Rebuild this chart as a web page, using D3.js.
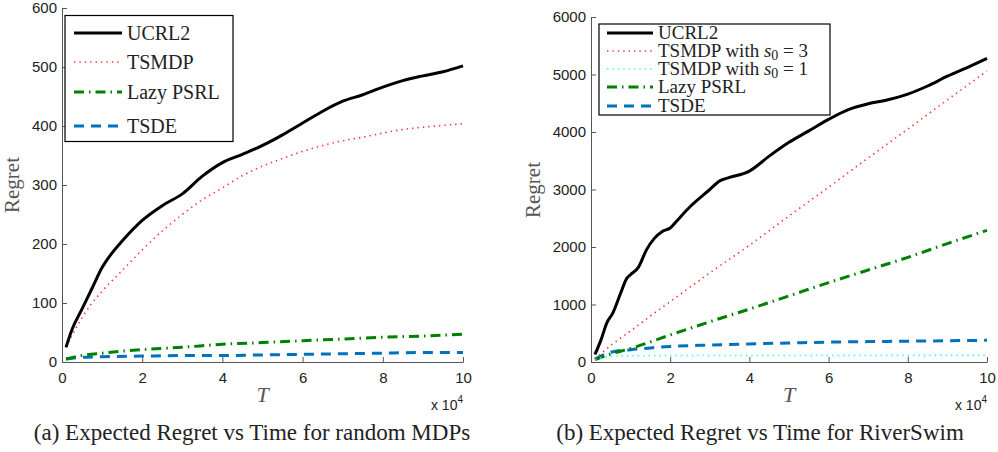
<!DOCTYPE html>
<html>
<head>
<meta charset="utf-8">
<script src="https://cdn.jsdelivr.net/npm/d3@7"></script>
<style>
  body { margin: 0; background: #fff; }
  svg { display: block; }
  .tick text { font-family: 'Liberation Sans', Arial, sans-serif; font-size: 15px; fill: #222; }
  .domain, .tick line { stroke: #555; }
  .serif { font-family: 'Liberation Serif', 'Times New Roman', serif; fill: #222; }
</style>
</head>
<body>
<svg id="container" width="998" height="452"></svg>
<script>
// ---- data: T in units of 10^4, regret values ----
const tA_ucrl = [0.1, 0.25, 0.5, 0.75, 1, 1.25, 1.5, 2, 2.5, 3, 3.5, 4, 4.5, 5, 5.5, 6, 6.5, 7, 7.5, 8, 8.5, 9, 9.5, 10]
const regA_ucrl = [25, 55, 90, 125, 160, 185, 205, 240, 265, 285, 315, 338, 352, 367, 385, 405, 425, 442, 453, 466, 477, 485, 492, 502]

const tA_tsmdp = [0.1, 0.25, 0.5, 0.75, 1, 1.5, 2, 2.5, 3, 3.5, 4, 4.5, 5, 5.5, 6, 6.5, 7, 7.5, 8, 8.5, 9, 9.5, 10]
const regA_tsmdp = [25, 45, 75, 100, 120, 155, 190, 222, 250, 275, 295, 316, 332, 345, 357, 367, 375, 381, 388, 394, 398, 401, 404]

const tA_coarse = [0.1, 0.5, 1, 2, 3, 4, 5, 6, 7, 8, 9, 10]
const regA_lazy = [5, 11, 15, 21, 25, 30, 33, 36, 39, 42, 44, 47]
const regA_tsde = [5, 8, 9, 10, 11, 11, 12, 13, 14, 15, 16, 16]

const tB_ucrl = [0.1, 0.25, 0.4, 0.55, 0.75, 0.9, 1, 1.2, 1.4, 1.6, 1.8, 2, 2.2, 2.5, 3, 3.25, 3.5, 4, 4.5, 5, 5.5, 6, 6.5, 7, 7.5, 8, 8.5, 9, 9.5, 10]
const regB_ucrl = [130, 380, 680, 850, 1200, 1450, 1520, 1650, 1950, 2150, 2270, 2330, 2480, 2700, 3000, 3150, 3210, 3320, 3580, 3820, 4020, 4220, 4390, 4490, 4560, 4660, 4800, 4970, 5120, 5280]

const tB_coarse = [0.1, 0.5, 1, 1.5, 2, 3, 4, 5, 6, 7, 8, 9, 10]
const regB_tsmdp3 = [50, 290, 540, 800, 1050, 1550, 2030, 2540, 3040, 3550, 4050, 4560, 5060]
const regB_tsmdp1 = [40, 100, 108, 110, 112, 112, 113, 113, 114, 114, 115, 115, 115]
const regB_lazy = [40, 140, 235, 350, 470, 700, 920, 1150, 1380, 1600, 1820, 2060, 2290]
const regB_tsde = [50, 170, 215, 245, 270, 295, 315, 330, 345, 355, 362, 370, 378]

const xTicks = [0, 2, 4, 6, 8, 10]
const yTicksA = [0, 100, 200, 300, 400, 500, 600]
const yTicksB = [0, 1000, 2000, 3000, 4000, 5000, 6000]

const namesA = ['UCRL2', 'TSMDP', 'Lazy PSRL', 'TSDE']
const namesB = ['UCRL2', 'TSMDP with s0 = 3', 'TSMDP with s0 = 1', 'Lazy PSRL', 'TSDE']

// line styles
const styles = {
  ucrl: { stroke: '#000', width: 3, dash: null },
  tsmdp: { stroke: '#ff3333', width: 1.6, dash: '1.4,4' },
  tsmdp1: { stroke: '#33ffff', width: 1.6, dash: '1.4,4' },
  lazy: { stroke: '#008000', width: 3, dash: '10,5,1.5,5' },
  tsde: { stroke: '#0072bd', width: 3, dash: '10,7' }
}

const svg = d3.select('#container')

function drawPanel(cfg) {
  const x = d3.scaleLinear().domain([0, 10]).range([cfg.left, cfg.right])
  const y = d3.scaleLinear().domain(cfg.yDomain).range([cfg.bottom, cfg.top])
  const g = svg.append('g')

  g.append('g')
    .attr('transform', `translate(0,${cfg.bottom})`)
    .call(d3.axisBottom(x).tickValues(xTicks).tickSizeInner(-5).tickSizeOuter(0).tickPadding(10))
  g.append('g')
    .attr('transform', `translate(${cfg.left},0)`)
    .call(d3.axisLeft(y).tickValues(cfg.yTicks).tickFormat(d3.format('d')).tickSizeInner(-5).tickSizeOuter(0).tickPadding(5))

  const line = d3.line()
    .x((d) => x(d[0]))
    .y((d) => y(d[1]))
    .curve(d3.curveMonotoneX)

  // draw in reverse so UCRL2 sits on top
  cfg.series.slice().reverse().forEach((s) => {
    const st = styles[s.style]
    g.append('path')
      .datum(d3.zip(s.t, s.v))
      .attr('fill', 'none')
      .attr('stroke', st.stroke)
      .attr('stroke-width', st.width)
      .attr('stroke-dasharray', st.dash)
      .attr('d', line)
  })

  g.append('text')
    .attr('class', 'serif')
    .attr('transform', `translate(${cfg.ylabX},${cfg.ylabY}) rotate(-90)`)
    .attr('text-anchor', 'middle')
    .attr('dominant-baseline', 'middle')
    .style('font-size', '21px')
    .style('fill', '#555')
    .text('Regret')

  g.append('text')
    .attr('class', 'serif')
    .attr('x', (cfg.left + cfg.right) / 2)
    .attr('y', cfg.bottom + 40)
    .attr('text-anchor', 'middle')
    .style('font-size', '22px')
    .style('font-style', 'italic')
    .style('fill', '#555')
    .text('T')

  const exp = g.append('text')
    .attr('x', cfg.right)
    .attr('y', cfg.bottom + 48)
    .attr('text-anchor', 'end')
    .style('font-family', "'Liberation Sans', Arial, sans-serif")
    .style('font-size', '14px')
    .style('fill', '#222')
  exp.append('tspan').text('x 10')
  exp.append('tspan').attr('dy', -7).style('font-size', '10px').text('4')

  // legend
  const lg = g.append('g')
  lg.append('rect')
    .attr('x', cfg.legend.x).attr('y', cfg.legend.y)
    .attr('width', cfg.legend.w).attr('height', cfg.legend.h)
    .attr('fill', '#fff').attr('stroke', '#000').attr('stroke-width', 1.2)
  cfg.series.forEach((s, i) => {
    const st = styles[s.style]
    const yy = cfg.legend.rows[i]
    lg.append('line')
      .attr('x1', cfg.legend.x + cfg.legend.lx0).attr('x2', cfg.legend.x + cfg.legend.lx1)
      .attr('y1', yy).attr('y2', yy)
      .attr('stroke', st.stroke).attr('stroke-width', st.width)
      .attr('stroke-dasharray', st.dash)
    const tx = lg.append('text')
      .attr('class', 'serif')
      .attr('x', cfg.legend.x + cfg.legend.lx1 + 5)
      .attr('y', yy + cfg.legend.fs * 0.33)
      .style('font-size', cfg.legend.fs + 'px')
    const m = s.name.match(/^(.*)s0 = (\d)$/)
    if (m) {
      tx.append('tspan').text(m[1])
      tx.append('tspan').style('font-style', 'italic').text('s')
      tx.append('tspan').attr('dy', 3).style('font-size', (cfg.legend.fs - 5) + 'px').text('0')
      tx.append('tspan').attr('dy', -3).text(' = ' + m[2])
    } else {
      tx.text(s.name)
    }
  })

  svg.append('text')
    .attr('class', 'serif')
    .attr('x', cfg.capX)
    .attr('y', 440)
    .attr('text-anchor', 'middle')
    .style('font-size', '23px')
    .text(cfg.caption)
}

drawPanel({
  left: 62, right: 463, top: 8, bottom: 362,
  yDomain: [0, 600], yTicks: yTicksA,
  ylabX: 14, ylabY: 185,
  series: [
    { name: namesA[0], style: 'ucrl', t: tA_ucrl, v: regA_ucrl },
    { name: namesA[1], style: 'tsmdp', t: tA_tsmdp, v: regA_tsmdp },
    { name: namesA[2], style: 'lazy', t: tA_coarse, v: regA_lazy },
    { name: namesA[3], style: 'tsde', t: tA_coarse, v: regA_tsde }
  ],
  legend: { x: 65, y: 15.5, w: 168, h: 126, lx0: 9, lx1: 57, fs: 20, rows: [33, 62, 92, 126] },
  caption: '(a) Expected Regret vs Time for random MDPs', capX: 252
})

drawPanel({
  left: 591, right: 987, top: 17, bottom: 362,
  yDomain: [0, 6000], yTicks: yTicksB,
  ylabX: 535, ylabY: 190,
  series: [
    { name: namesB[0], style: 'ucrl', t: tB_ucrl, v: regB_ucrl },
    { name: namesB[1], style: 'tsmdp', t: tB_coarse, v: regB_tsmdp3 },
    { name: namesB[2], style: 'tsmdp1', t: tB_coarse, v: regB_tsmdp1 },
    { name: namesB[3], style: 'lazy', t: tB_coarse, v: regB_lazy },
    { name: namesB[4], style: 'tsde', t: tB_coarse, v: regB_tsde }
  ],
  legend: { x: 599, y: 24, w: 231, h: 91, lx0: 8, lx1: 54, fs: 19, rows: [33, 51, 69, 87, 106] },
  caption: '(b) Expected Regret vs Time for RiverSwim', capX: 760
})
</script>
</body>
</html>
